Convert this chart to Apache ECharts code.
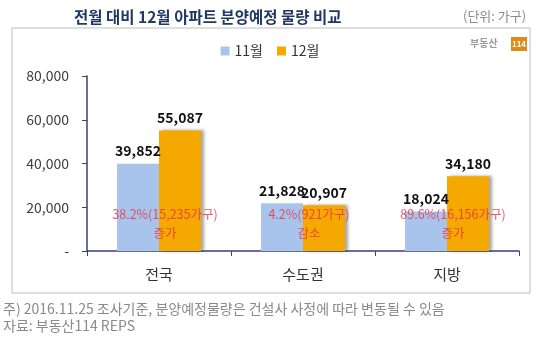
<!DOCTYPE html>
<html><head><meta charset="utf-8">
<script src="https://cdn.jsdelivr.net/npm/echarts@6/dist/echarts.min.js"></script>
<style>html,body{margin:0;padding:0;background:#fff}#c{width:540px;height:343px}</style>
</head><body><div id="c"></div>
<script>
const categories = ['전국', '수도권', '지방'];
const nov = [39852, 21828, 18024];
const dec = [55087, 20907, 34180];
const changeText = ['38.2%(15,235가구)', '4.2%(921가구)', '89.6%(16,156가구)'];
const changeWord = ['증가', '감소', '증가'];
const annotY = [12600, 12600, 12600];
const yTicks = [0, 20000, 40000, 60000, 80000];

const FONT = '"Noto Sans CJK KR", "Noto Sans", sans-serif';
const chart = echarts.init(document.getElementById('c'));
chart.setOption({
  animation: false,
  textStyle: { fontFamily: FONT },
  title: {
    text: '전월 대비 12월 아파트 분양예정 물량 비교',
    left: 69, top: 4,
    textStyle: { fontSize: 15.5, fontWeight: 'bold', color: '#1f3864', fontFamily: FONT }
  },
  legend: {
    data: ['11월', '12월'],
    top: 39, left: 'center',
    itemWidth: 9, itemHeight: 9, itemGap: 14,
    icon: 'rect',
    textStyle: { fontSize: 14, color: '#333', fontFamily: FONT }
  },
  graphic: [
    { type: 'rect', shape: { x: 12, y: 28, width: 518, height: 265 }, style: { fill: 'none', stroke: '#bdbdbd', lineWidth: 1 }, z: -1 },
    { type: 'text', left: 463, top: 10, style: { text: '(단위: 가구)', fill: '#8a8a8a', font: '13px ' + FONT } },
    { type: 'text', left: 470, top: 38, style: { text: '부동산', fill: '#9a9a9a', font: 'bold 10px ' + FONT } },
    { type: 'rect', shape: { x: 511, y: 37, width: 16, height: 14 }, style: { fill: '#e28a16' } },
    { type: 'text', x: 519, y: 44, style: { text: '114', fill: '#fff', font: 'bold 8px ' + FONT, textAlign: 'center', textVerticalAlign: 'middle' } },
    { type: 'text', left: 3, top: 302, style: { text: '주) 2016.11.25 조사기준, 분양예정물량은 건설사 사정에 따라 변동될 수 있음', fill: '#8a8a8a', font: '14px ' + FONT } },
    { type: 'text', left: 3, top: 319, style: { text: '자료: 부동산114 REPS', fill: '#8a8a8a', font: '14px ' + FONT } }
  ],
  grid: { left: 87, right: 21, top: 76, bottom: 92 },
  xAxis: {
    type: 'category', data: categories,
    axisLine: { lineStyle: { color: '#3a3f7a', width: 1.5 } },
    axisTick: { show: true, length: 5, lineStyle: { color: '#3a3f7a' } },
    axisLabel: { fontSize: 15, color: '#333', margin: 16, fontFamily: FONT }
  },
  yAxis: {
    type: 'value', min: 0, max: 80000, interval: 20000,
    axisLine: { show: true, lineStyle: { color: '#3a3f7a', width: 1.5 } },
    axisTick: { show: true, length: 5, lineStyle: { color: '#3a3f7a' } },
    splitLine: { show: false },
    axisLabel: {
      fontSize: 14, color: '#404040', margin: 18, fontFamily: FONT,
      formatter: v => v === 0 ? '-' : v.toLocaleString('en-US')
    }
  },
  series: [
    {
      name: '11월', type: 'bar', data: nov, barWidth: 42, barGap: '0%',
      itemStyle: { color: '#a9c4ec' },
      label: { show: true, position: 'top', distance: 6, fontSize: 14, fontWeight: 'bold', color: '#111', fontFamily: FONT,
        formatter: p => p.value.toLocaleString('en-US') }
    },
    {
      name: '12월', type: 'bar', data: dec, barWidth: 42,
      itemStyle: { color: '#f5a800', shadowColor: 'rgba(0,0,0,0.35)', shadowOffsetX: 3, shadowOffsetY: 0, shadowBlur: 3 },
      label: { show: true, position: 'top', distance: 6, fontSize: 14, fontWeight: 'bold', color: '#111', fontFamily: FONT,
        formatter: p => p.value.toLocaleString('en-US') }
    },
    {
      type: 'scatter', symbolSize: 0, silent: true, z: 10,
      data: categories.map((c, i) => [c, annotY[i]]),
      label: {
        show: true, position: 'inside', offset: [6, 0],
        fontSize: 12.5, color: '#e8303f', lineHeight: 19, align: 'center', fontFamily: FONT,
        formatter: p => changeText[p.dataIndex] + '\n' + changeWord[p.dataIndex]
      }
    }
  ]
});
</script></body></html>
